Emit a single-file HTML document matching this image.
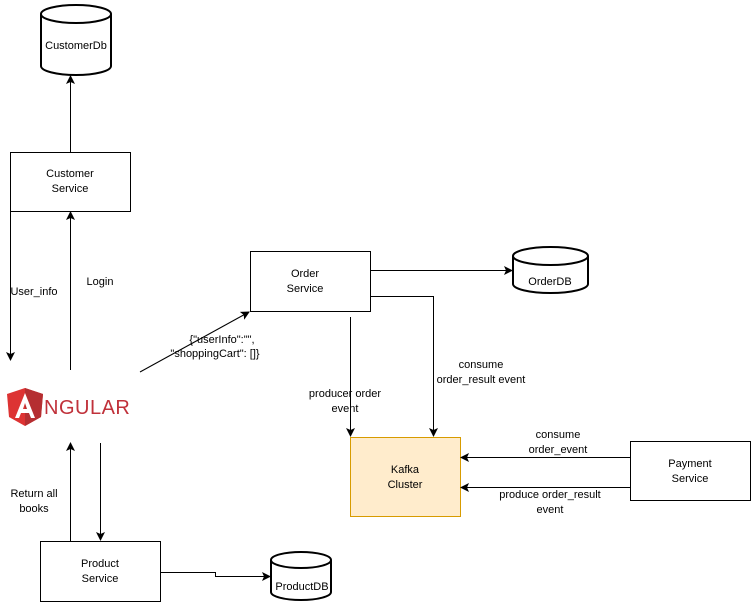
<!DOCTYPE html>
<html><head><meta charset="utf-8"><style>
html,body{margin:0;padding:0;background:#fff;width:752px;height:603px;overflow:hidden}
text{font-family:"Liberation Sans",Arial,sans-serif;font-size:11px;fill:#000}
</style></head><body>
<svg width="752" height="603" viewBox="0 0 752 603" xmlns="http://www.w3.org/2000/svg">
<defs>
<marker id="a" markerWidth="9" markerHeight="9" refX="8" refY="4.5" orient="auto" markerUnits="userSpaceOnUse">
<path d="M0,0 L9,4.5 L0,9 L2,4.5 z" fill="#000"/></marker>
</defs>
<g fill="#fff" stroke="#000" stroke-width="2">
<path d="M41,14 v52 a35,9 0 0 0 70,0 v-52"/>
<ellipse cx="76" cy="14" rx="35" ry="9"/>
<path d="M513,256 v28 a37.5,9 0 0 0 75,0 v-28"/>
<ellipse cx="550.5" cy="256" rx="37.5" ry="9"/>
<path d="M271,560 v32 a30,8 0 0 0 60,0 v-32"/>
<ellipse cx="301" cy="560" rx="30" ry="8"/>
</g>
<g fill="#fff" stroke="#000" stroke-width="1">
<rect x="10.5" y="152.5" width="120" height="59"/>
<rect x="250.5" y="251.5" width="120" height="60"/>
<rect x="630.5" y="441.5" width="120" height="59"/>
<rect x="40.5" y="541.5" width="120" height="60"/>
</g>
<rect x="350.5" y="437.5" width="110" height="79" fill="#ffeccc" stroke="#d79b00"/>
<g stroke="#000" stroke-width="1" fill="none" marker-end="url(#a)">
<path d="M70.5,152 V76"/>
<path d="M10.5,211 V360"/>
<path d="M70.5,370 V212"/>
<path d="M140,372 L249,312"/>
<path d="M370,270.5 H512"/>
<path d="M350.5,317 V436"/>
<path d="M370,296.5 H433.5 V436"/>
<path d="M630,457.5 H461"/>
<path d="M630,487.5 H461"/>
<path d="M70.5,541 V443"/>
<path d="M100.5,443 V540"/>
<path d="M160,572.5 H215.5 V576.5 H270"/>
</g>
<path d="M25,388 L7,394 L9,417 L25,426 L41,417 L43,394 z" fill="#dd3333"/>
<path d="M25,388 L43,394 L41,417 L25,426 z" fill="#b52e31"/>
<path d="M25,393 L15,418 H19 L21,413 H29 L31,418 H35 z M23,409 L25,403 L27,409 z" fill="#fff"/>
<text x="44" y="414" style="font-size:20px;fill:#c0313a;letter-spacing:0.5px">NGULAR</text>
<g text-anchor="middle">
<text x="76" y="49">CustomerDb</text>
<text x="70" y="177">Customer</text><text x="70" y="192">Service</text>
<text x="34" y="295">User_info</text>
<text x="100" y="285">Login</text>
<text x="305" y="277">Order</text><text x="305" y="292">Service</text>
<text x="550" y="285">OrderDB</text>
<text x="222" y="343">{"userInfo":"",</text>
<text x="215" y="357">"shoppingCart":  []}</text>
<text x="345" y="397">producer order</text><text x="345" y="412">event</text>
<text x="481" y="368">consume</text><text x="481" y="383">order_result event</text>
<text x="405" y="473">Kafka</text><text x="405" y="488">Cluster</text>
<text x="558" y="438">consume</text><text x="558" y="453">order_event</text>
<text x="690" y="467">Payment</text><text x="690" y="482">Service</text>
<text x="550" y="498">produce order_result</text><text x="550" y="513">event</text>
<text x="34" y="497">Return all</text><text x="34" y="512">books</text>
<text x="100" y="567">Product</text><text x="100" y="582">Service</text>
<text x="302" y="590">ProductDB</text>
</g>
</svg>
</body></html>
